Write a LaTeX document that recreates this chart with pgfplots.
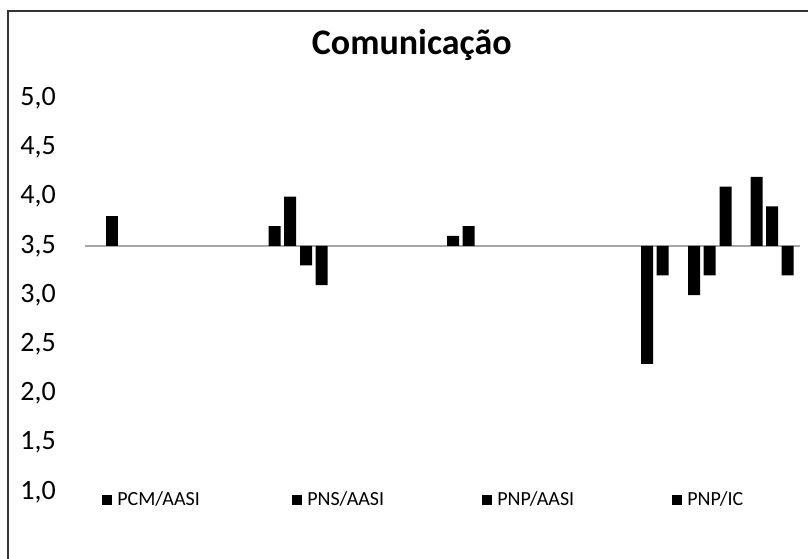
\documentclass[border=0pt]{standalone}
\usepackage{pgfplots}
\pgfplotsset{compat=1.18}
\usepackage{fontspec}
\setmainfont{Carlito}

\begin{document}
\begin{tikzpicture}
% chart frame (right and bottom edges fall outside the picture)
\draw[draw=black!80, line width=1.5pt] (6pt,-8.25pt) rectangle (640pt,-440pt);
\begin{axis}[
  at={(63.75pt,-369pt)}, anchor=south west,
  scale only axis, width=536.25pt, height=295.5pt,
  xmin=85, xmax=800, ymin=1, ymax=5,
  y coord trafo/.code={\pgfmathparse{#1-3.5}},
  y coord inv trafo/.code={\pgfmathparse{#1+3.5}},
  hide x axis,
  axis y line*=left,
  y axis line style={draw=none},
  major tick length=0pt,
  ytick={1,1.5,2,2.5,3,3.5,4,4.5,5},
  yticklabels={{1,0},{1,5},{2,0},{2,5},{3,0},{3,5},{4,0},{4,5},{5,0}},
  yticklabel style={font=\fontsize{21}{25}\selectfont, inner sep=0pt, anchor=east, xshift=-21.75pt},
  title={Comunicação},
  title style={font=\fontsize{27}{32}\selectfont\bfseries, at={(axis description cs:0.457,1.089)}, anchor=base},
  clip=false,
  legend columns=4,
  legend style={at={(axis description cs:0.0238,-0.0203)}, anchor=west, draw=none, fill=none,
    inner sep=0pt, font=\fontsize{15}{17}\selectfont,
    nodes={text width=127.5pt, inner xsep=3.75pt, align=left},
    /tikz/every even column/.append style={column sep=0pt}},
  legend image code/.code={\fill[black] (0pt,-3.75pt) rectangle (7.5pt,3.75pt);},
]
\addplot[forget plot, color=black!35, line width=1.5pt] coordinates {(85,3.5) (800,3.5)};

\addplot[ybar, bar width=12, bar shift=0pt, fill=black, draw=none]
  coordinates {(112,3.8)};
\addplot[ybar, bar width=12, bar shift=0pt, fill=black, draw=none]
  coordinates {(274.5,3.7) (290,4.0) (306,3.3) (321.5,3.1)};
\addplot[ybar, bar width=12, bar shift=0pt, fill=black, draw=none]
  coordinates {(453,3.6) (468.5,3.7)};
\addplot[ybar, bar width=12, bar shift=0pt, fill=black, draw=none]
  coordinates {(647,2.3) (662.5,3.2) (694,3.0) (709.5,3.2) (725.5,4.1) (756.5,4.2) (772,3.9) (787.5,3.2)};
\legend{PCM/AASI, PNS/AASI, PNP/AASI, PNP/IC}
\end{axis}
\pgfresetboundingbox
\path[use as bounding box] (0,0) rectangle (606pt,-418.5pt);
\end{tikzpicture}
\end{document}
